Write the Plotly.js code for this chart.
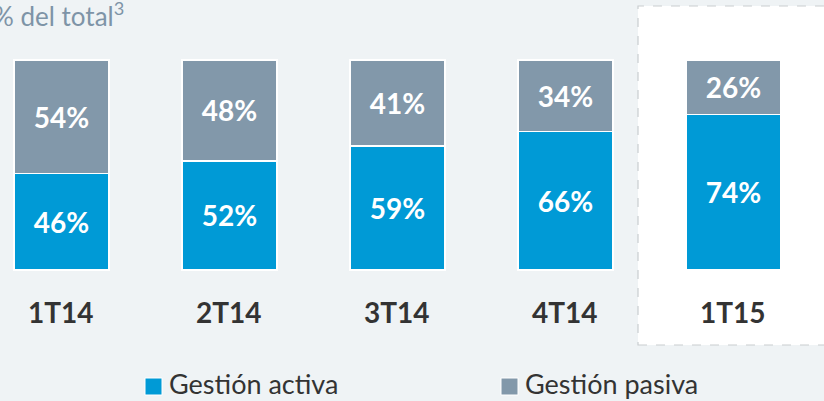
<!DOCTYPE html>
<html>
<head>
<meta charset="utf-8">
<script src="https://cdn.plot.ly/plotly-3.0.1.min.js"></script>
<style>html,body{margin:0;padding:0;background:#eff3f5;}#chart{width:824px;height:401px;}</style>
</head>
<body>
<div id="chart"></div>
<script>
const categories = ['1T14', '2T14', '3T14', '4T14', '1T15'];
const activa = [46, 52, 59, 66, 74];
const pasiva = [54, 48, 41, 34, 26];
const seriesNames = ['Gestión activa', 'Gestión pasiva'];
const titleText = '% del total<sup>3</sup>';

const FONT = 'Lato, "Open Sans", sans-serif';
const COLORS = ['#009ad6', '#8298aa'];
const W = 824, H = 401;

function pct(v) { return v.map(x => x + '%'); }

const common = {
  type: 'bar',
  x: categories,
  width: 0.5655,
  textposition: 'inside',
  insidetextanchor: 'middle',
  textangle: 0,
  constraintext: 'none',
  textfont: {family: FONT, size: 28, color: '#ffffff', weight: 'bold'},
  hoverinfo: 'skip',
  showlegend: false
};

const traces = [
  Object.assign({}, common, {
    name: seriesNames[0], y: activa, text: pct(activa),
    marker: {color: COLORS[0], line: {color: '#ffffff', width: 1.5}}
  }),
  Object.assign({}, common, {
    name: seriesNames[1], y: pasiva, text: pct(pasiva),
    marker: {color: COLORS[1], line: {color: '#ffffff', width: 1.5}}
  })
];

const annotations = categories.map(c => ({
  x: c, y: -20, xref: 'x', yref: 'y', text: '<b>' + c + '</b>', showarrow: false,
  font: {family: FONT, size: 28, color: '#333333'}, xanchor: 'center', yanchor: 'middle'
}));
annotations.push({
  x: -9/W, xref: 'paper', xanchor: 'left', y: 1 - 14/H, yref: 'paper', yanchor: 'middle',
  text: titleText, showarrow: false,
  font: {family: FONT, size: 26, color: '#7e94a7'}
});

const shapes = [{
  type: 'rect', xref: 'paper', yref: 'paper', layer: 'below',
  x0: 638/W, x1: 1.02, y0: 1 - 345/H, y1: 1 - 6/H,
  fillcolor: '#ffffff', line: {color: '#c9cdd0', width: 1.2, dash: 'dash'}
}];

// legend (square swatch + label) for each series
const legendStartX = [145, 501];
seriesNames.forEach(function (name, i) {
  const x0 = legendStartX[i];
  shapes.push({
    type: 'rect', xref: 'paper', yref: 'paper',
    x0: x0/W, x1: (x0 + 17)/W, y0: 1 - 395/H, y1: 1 - 378/H,
    fillcolor: COLORS[i], line: {color: '#ffffff', width: 1}
  });
  annotations.push({
    x: (x0 + 23)/W, xref: 'paper', xanchor: 'left', y: 0, yref: 'paper', yanchor: 'bottom',
    borderpad: 0, text: name, showarrow: false,
    font: {family: FONT, size: 27, color: '#333333'}
  });
});

const layout = {
  width: W, height: H,
  margin: {l: 0, r: 0, t: 0, b: 0, pad: 0},
  paper_bgcolor: '#eff3f5',
  plot_bgcolor: 'rgba(0,0,0,0)',
  barmode: 'stack',
  showlegend: false,
  xaxis: {
    type: 'category', range: [-0.366, 4.539], showgrid: false, zeroline: false,
    showticklabels: false, showline: false, ticks: '', fixedrange: true
  },
  yaxis: {
    range: [-62.38, 128.57], showgrid: false, zeroline: false,
    showticklabels: false, showline: false, ticks: '', fixedrange: true
  },
  shapes: shapes,
  annotations: annotations
};

Plotly.newPlot('chart', traces, layout, {displayModeBar: false, staticPlot: true});
</script>
</body>
</html>
